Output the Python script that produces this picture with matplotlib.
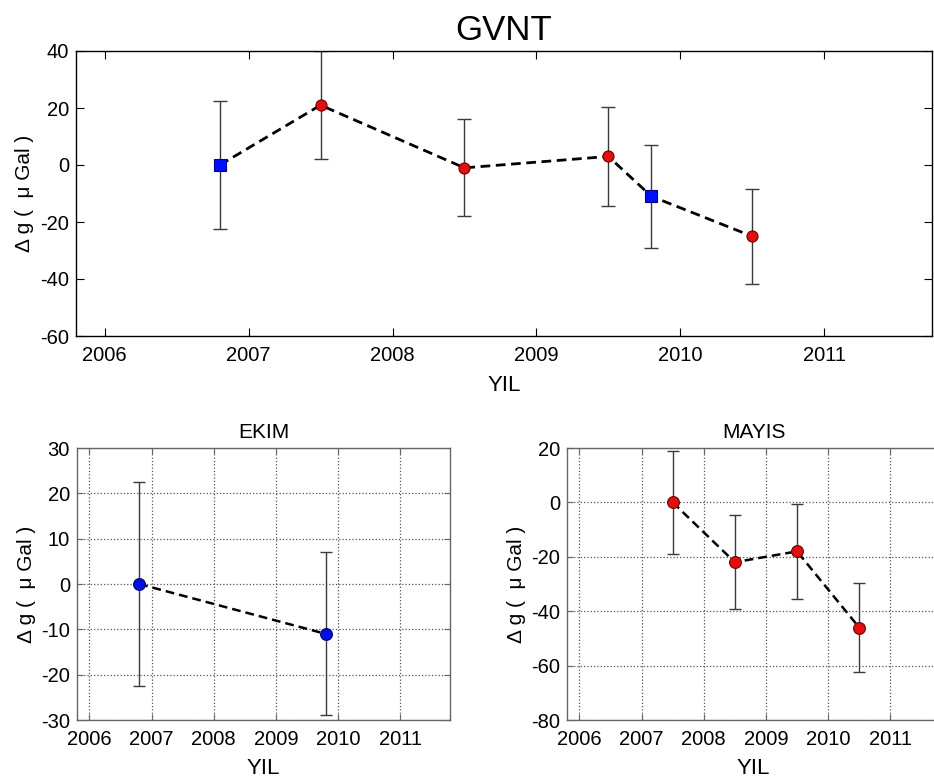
import numpy as np
import matplotlib
matplotlib.use("Agg")
import matplotlib.pyplot as plt

plt.rcParams['font.family'] = ['Liberation Sans', 'DejaVu Sans']
plt.rcParams['axes.unicode_minus'] = False

# ---- data ----
ekim_years = [2006.8, 2009.8]
ekim_dg_top = [0.0, -11.0]
ekim_err = [22.6, 18.0]

mayis_years = [2007.5, 2008.5, 2009.5, 2010.5]
mayis_dg_top = [21.0, -1.0, 3.0, -25.0]
mayis_err_top = [19.0, 17.0, 17.5, 16.7]

ekim_dg = [0.0, -11.0]
ekim_err_bottom = [22.4, 18.0]

mayis_dg = [0.0, -22.0, -18.0, -46.0]
mayis_err = [19.0, 17.3, 17.5, 16.5]

x_ticks = [2006, 2007, 2008, 2009, 2010, 2011]
top_yticks = [-60, -40, -20, 0, 20, 40]
ekim_yticks = [-30, -20, -10, 0, 10, 20, 30]
mayis_yticks = [-80, -60, -40, -20, 0, 20]

title_main = "GVNT"
title_ekim = "EKIM"
title_mayis = "MAYIS"
xlabel = "YIL"
ylabel = "Δ g (  μ Gal )"

W, H = 934, 781
fig = plt.figure(figsize=(W / 100, H / 100), dpi=100)


def pos(l, t, r, b):
    return [l / W, 1 - b / H, (r - l) / W, (b - t) / H]


dash = (0, (3.5, 2))
err_col = '#3a3a3a'


def style(ax, spine_col, fs, tlen):
    ax.tick_params(direction='in', top=True, right=True, length=tlen,
                   labelsize=fs, color=spine_col, labelcolor='black')
    ax.tick_params(axis='x', pad=7.5)
    ax.tick_params(axis='y', pad=5)
    for s in ax.spines.values():
        s.set_color(spine_col)
        s.set_linewidth(1.0)


# ---- top panel ----
ax = fig.add_axes(pos(76, 51, 932, 336))
all_x = np.array(ekim_years + mayis_years)
all_y = np.array(ekim_dg_top + mayis_dg_top)
order = np.argsort(all_x)
ax.plot(all_x[order], all_y[order], color='black', lw=2.0, ls=dash, zorder=2)
ax.errorbar(mayis_years, mayis_dg_top, yerr=mayis_err_top, fmt='none',
            ecolor=err_col, elinewidth=1.0, capsize=5, capthick=1.0, zorder=1)
ax.errorbar(ekim_years, ekim_dg_top, yerr=ekim_err, fmt='none',
            ecolor=err_col, elinewidth=1.0, capsize=5, capthick=1.0, zorder=1)
ax.plot(mayis_years, mayis_dg_top, 'o', ms=8, mfc='#e01010', mec='#700000',
        mew=0.8, ls='none', zorder=3)
ax.plot(ekim_years, ekim_dg_top, 's', ms=8, mfc='#0010ff', mec='#000080',
        mew=0.8, ls='none', zorder=3)
ax.set_xlim(2005.8, 2011.75)
ax.set_ylim(-60, 40)
ax.set_xticks(x_ticks)
ax.set_yticks(top_yticks)
style(ax, 'black', 14.5, 6)
ax.set_title(title_main, fontsize=25, pad=8)
ax.set_xlabel(xlabel, fontsize=16, labelpad=7)
ax.set_ylabel(ylabel, fontsize=15, labelpad=4)

# ---- bottom left (EKIM) ----
ax2 = fig.add_axes(pos(77, 448, 450, 720))
ax2.grid(True, ls=':', color='#555555', lw=0.9)
ax2.plot(ekim_years, ekim_dg, color='black', lw=1.8, ls=dash, zorder=2)
ax2.errorbar(ekim_years, ekim_dg, yerr=ekim_err_bottom, fmt='none',
             ecolor=err_col, elinewidth=1.0, capsize=4, capthick=1.0, zorder=1)
ax2.plot(ekim_years, ekim_dg, 'o', ms=8.5, mfc='#0010e0', mec='#000070',
         mew=0.8, ls='none', zorder=3)
ax2.set_xlim(2005.8, 2011.8)
ax2.set_ylim(-30, 30)
ax2.set_xticks(x_ticks)
ax2.set_yticks(ekim_yticks)
ax2.set_axisbelow(True)
style(ax2, '#666666', 14.5, 4)
ax2.set_title(title_ekim, fontsize=15, pad=7.5)
ax2.set_xlabel(xlabel, fontsize=16, labelpad=6)
ax2.set_ylabel(ylabel, fontsize=15, labelpad=4)

# ---- bottom right (MAYIS) ----
ax3 = fig.add_axes(pos(567, 448, 940, 720))
ax3.grid(True, ls=':', color='#555555', lw=0.9)
ax3.plot(mayis_years, mayis_dg, color='black', lw=1.8, ls=dash, zorder=2)
ax3.errorbar(mayis_years, mayis_dg, yerr=mayis_err, fmt='none',
             ecolor=err_col, elinewidth=1.0, capsize=4, capthick=1.0, zorder=1)
ax3.plot(mayis_years, mayis_dg, 'o', ms=8.5, mfc='#e01010', mec='#700000',
         mew=0.8, ls='none', zorder=3)
ax3.set_xlim(2005.8, 2011.8)
ax3.set_ylim(-80, 20)
ax3.set_xticks(x_ticks)
ax3.set_yticks(mayis_yticks)
ax3.set_axisbelow(True)
style(ax3, '#666666', 14.5, 4)
ax3.set_title(title_mayis, fontsize=15, pad=7.5)
ax3.set_xlabel(xlabel, fontsize=16, labelpad=6)
ax3.set_ylabel(ylabel, fontsize=15, labelpad=4)

fig.savefig("out.png", dpi=100)
